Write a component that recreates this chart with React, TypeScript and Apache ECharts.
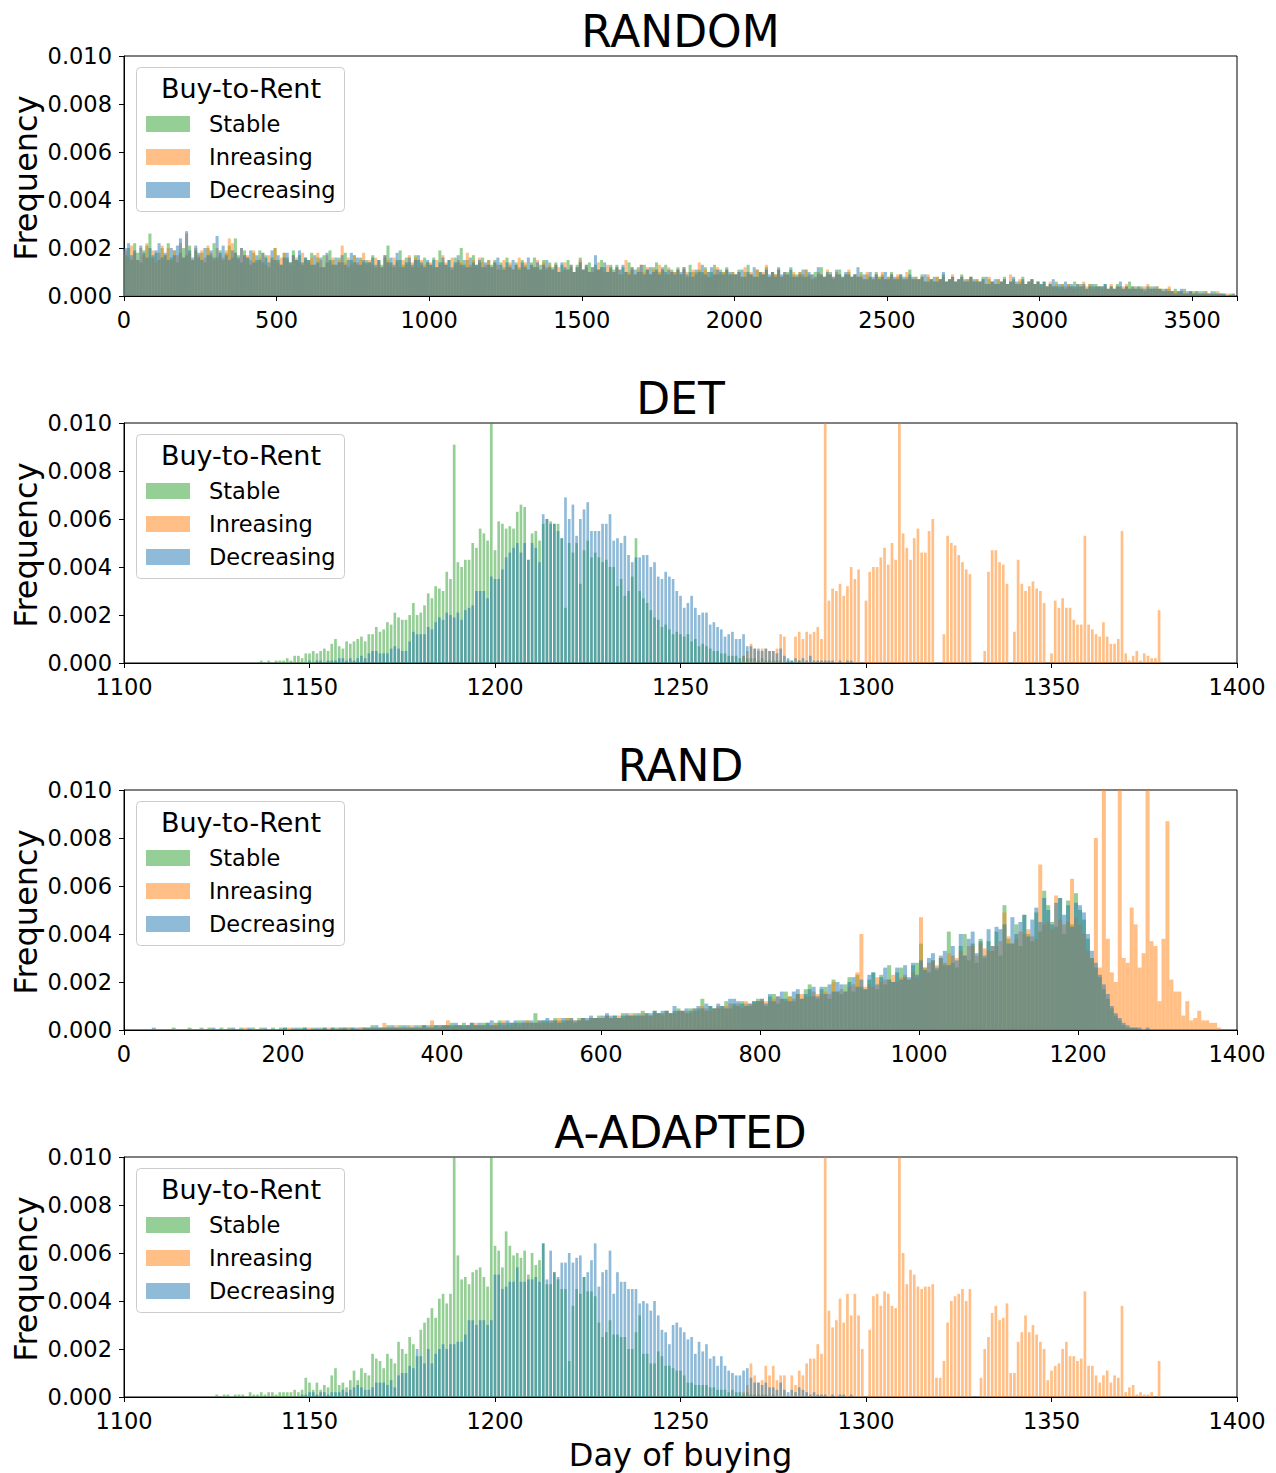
import React, { useEffect, useRef } from 'react';
import * as echarts from 'echarts';

// ---------- labels ----------
const SERIES_NAMES = ['Stable', 'Inreasing', 'Decreasing'];
const PANEL_TITLES = ['RANDOM', 'DET', 'RAND', 'A-ADAPTED'];
const LEGEND_TITLE = 'Buy-to-Rent';
const Y_LABEL = 'Frequency';
const X_LABEL = 'Day of buying';

// ---------- data (frequency in units of 1e-4) ----------
// RANDOM: 10-day bins starting at day 0
const randomStable = [
  17,20,15,22,18,14,19,21,26,16,18,15,20,17,22,16,19,14,18,20,
  17,21,15,19,16,18,14,20,17,22,16,19,15,18,21,16,24,17,14,19,
  16,13,18,15,19,14,17,12,16,20,15,13,18,16,14,19,15,17,13,16,
  15,18,13,16,12,17,14,19,15,13,16,14,18,12,15,17,13,16,14,15,
  14,17,12,15,13,16,21,14,12,15,19,13,16,14,12,17,15,13,16,14,
  13,16,12,19,14,13,15,11,16,14,20,13,15,12,17,13,14,16,12,15,
  13,15,11,14,12,16,13,11,14,12,15,13,11,14,16,12,13,15,11,14,
  12,14,10,13,11,15,12,10,13,16,11,12,14,10,13,11,15,12,10,13,
  11,13,9,12,10,14,11,9,12,10,13,11,9,12,14,10,11,13,9,11,
  10,12,9,11,8,13,10,9,11,10,12,8,10,13,9,11,10,12,9,10,
  9,11,8,10,13,9,8,11,10,9,12,8,10,9,11,8,9,10,12,9,
  9,10,8,11,9,7,10,9,12,8,9,10,7,9,11,8,9,10,8,9,
  8,10,7,9,8,7,10,8,9,7,8,10,7,8,9,7,8,11,7,8,
  7,9,6,8,7,6,8,7,9,6,7,8,6,7,9,6,7,8,6,7,
  6,8,5,7,6,5,7,6,8,5,6,7,5,6,8,5,6,7,5,6,
  5,6,4,5,4,6,4,5,3,5,4,6,4,5,4,3,5,4,5,4,
  4,5,3,4,3,5,4,3,4,6,3,4,3,4,2,3,4,3,4,3,
  3,2,3,2,3,2,2,3,1,2,2,1,2,1,2,1,1,2,1,1,
  1,0,1,0,0,
];
const randomIncreasing = [
  19,16,21,18,15,20,17,22,16,19,14,18,21,17,20,15,19,17,22,16,
  26,18,15,20,17,19,16,21,18,15,20,17,16,19,24,22,18,15,20,17,
  17,15,19,14,16,18,13,17,15,20,14,16,18,15,13,17,16,14,18,15,
  14,16,13,18,15,12,17,14,16,13,15,21,14,16,13,17,14,15,18,13,
  15,13,16,14,12,17,15,13,16,14,12,15,13,17,14,16,12,15,13,14,
  14,12,15,13,17,14,12,16,13,15,14,12,18,13,15,12,16,14,13,15,
  12,14,13,11,15,12,14,11,13,16,12,14,11,13,12,15,11,14,12,13,
  11,13,12,10,14,11,13,10,12,15,11,13,10,12,11,14,12,10,13,11,
  10,12,11,9,15,10,12,9,11,13,10,12,9,11,10,13,11,9,12,10,
  10,11,9,12,10,8,11,10,14,9,11,10,8,11,12,9,10,11,9,10,
  9,10,8,12,9,10,8,11,9,10,13,8,10,9,11,8,10,9,8,10,
  8,10,9,11,8,9,7,10,9,8,11,9,8,10,9,7,9,11,8,9,
  8,9,7,10,8,7,9,8,10,7,8,9,7,9,8,7,10,8,7,8,
  7,8,6,9,7,6,8,7,8,6,7,9,6,7,8,6,7,8,6,7,
  6,7,5,8,6,5,7,6,7,5,9,6,5,7,6,5,6,7,5,6,
  4,5,4,6,4,5,3,5,4,5,4,3,5,4,6,4,5,3,4,4,
  3,4,3,5,3,4,3,4,5,3,4,3,4,3,4,5,3,3,4,3,
  2,3,4,2,2,1,2,2,1,2,1,2,1,1,2,1,1,1,2,1,
  0,1,0,1,0,
];
const randomDecreasing = [
  20,22,17,19,15,21,18,16,20,17,19,22,16,18,15,20,17,21,24,16,
  27,19,16,21,18,15,20,17,19,16,25,18,21,17,15,19,18,16,20,17,
  16,19,14,17,15,18,16,14,19,15,17,13,16,18,14,17,15,19,14,16,
  15,13,17,14,16,12,18,15,13,16,14,17,13,15,18,14,16,13,15,14,
  14,16,13,15,12,17,14,16,13,18,15,12,14,16,13,15,17,14,12,15,
  13,15,12,14,16,13,15,12,14,17,13,15,12,16,14,13,15,12,14,13,
  12,14,16,13,11,14,12,15,13,11,14,12,16,13,12,14,11,13,15,12,
  11,13,10,14,12,11,13,10,12,14,11,13,10,12,17,11,12,14,10,12,
  10,12,11,13,10,9,12,11,10,13,9,11,12,10,11,9,12,10,11,10,
  9,11,10,12,9,10,8,11,10,13,9,10,12,9,11,10,9,11,10,9,
  9,10,11,8,10,9,12,8,10,9,11,9,10,8,12,9,10,9,11,8,
  8,9,11,8,10,9,8,12,9,8,10,9,8,11,9,8,10,9,8,9,
  12,8,9,7,10,8,9,7,8,10,7,9,8,7,9,8,7,9,8,7,
  7,8,9,6,7,8,6,7,10,6,7,8,6,7,8,7,6,8,7,6,
  6,7,8,5,6,7,5,6,7,5,6,8,6,5,7,5,6,7,5,6,
  5,6,4,5,7,4,5,4,6,4,5,4,5,4,5,3,4,5,4,4,
  4,5,3,4,3,4,6,3,4,3,4,3,4,3,3,4,3,4,3,3,
  2,3,2,2,1,2,3,1,2,2,1,2,1,2,1,1,2,1,1,1,
  1,0,0,1,0,
];

// DET: one bar per day
const detStable = [ // from day 1135
  0,0,1,0,1,0,1,1,1,2,
  1,3,3,2,4,4,5,4,5,6,
  5,8,10,7,6,9,8,9,10,11,
  9,12,12,15,13,14,17,16,21,19,
  18,18,20,25,20,21,24,29,27,32,
  31,30,38,35,91,42,40,43,43,50,
  48,56,54,51,120,47,59,58,56,57,
  56,63,66,65,43,54,55,51,58,60,
  59,58,58,52,23,50,46,50,33,47,
  51,44,46,44,42,43,40,40,32,35,
  28,30,36,52,30,27,25,22,19,18,
  15,16,14,12,13,12,11,12,9,10,
  7,8,7,6,5,5,4,4,3,3,
  3,2,3,2,2,2,1,2,1,1,
  1,1,1,0,1,1,0,1,
];
const detDecreasing = [ // from day 1150
  1,0,1,1,0,1,1,1,2,2,
  1,2,1,2,3,2,4,5,5,4,
  4,4,6,7,6,5,5,9,13,12,
  12,12,15,14,17,19,18,21,20,19,
  21,18,22,23,24,30,30,30,27,36,
  35,35,39,44,46,48,50,46,50,43,
  50,48,42,62,60,58,58,55,52,69,
  60,66,53,60,64,67,55,55,55,58,
  58,62,51,52,50,53,45,42,44,44,
  45,45,40,42,36,35,38,36,35,30,
  28,23,25,28,23,20,21,21,16,17,
  15,14,11,12,13,10,10,12,7,7,
  6,6,5,6,5,5,4,6,3,2,
  1,2,1,2,1,3,1,1,1,1,
  1,1,0,1,0,1,1,
];
const detIncreasing = [ // from day 1266
  0,3,5,8,6,5,6,6,5,5,
  6,12,11,0,0,11,13,10,13,12,
  13,15,10,120,26,31,30,33,28,32,
  40,35,39,0,26,38,40,40,44,48,
  41,50,43,120,54,48,43,52,56,46,
  46,55,60,0,0,12,53,50,49,45,
  42,39,37,0,0,0,5,38,47,47,
  42,41,33,0,13,43,33,30,32,34,
  31,30,25,0,4,26,23,27,23,23,
  18,16,16,53,16,14,12,11,17,11,
  8,8,10,55,4,1,3,5,1,4,
  3,2,2,22,
];

// RAND: 5-day bins starting at day 0
const randStable = [
  0,0,0,0,0,0,0,0,0,0,0,0,1,0,0,0,1,0,0,1,
  0,1,0,0,1,0,1,0,0,1,0,0,1,0,1,0,0,1,0,1,
  1,0,1,0,1,1,0,1,0,1,1,0,1,1,0,1,1,1,0,1,
  1,1,2,1,1,1,2,1,1,2,1,2,1,1,2,2,1,2,2,1,
  2,2,3,2,2,3,2,3,2,2,3,3,2,3,4,2,3,3,3,4,
  3,4,3,7,3,4,4,3,5,4,4,5,4,3,5,5,4,5,5,6,
  5,6,5,6,5,7,6,6,7,6,8,7,6,8,7,7,8,7,8,9,
  8,7,9,8,9,13,8,10,9,9,10,12,9,11,10,12,11,10,12,13,
  12,10,14,15,11,13,16,14,12,15,13,17,19,14,13,17,18,13,21,16,
  15,19,22,16,23,18,17,21,24,17,23,19,27,20,24,26,22,21,27,28,
  36,26,24,29,25,30,27,41,28,26,35,40,29,36,28,38,30,37,33,41,
  31,52,38,36,44,35,48,40,37,49,41,58,52,45,43,55,40,54,44,57,
  50,46,38,30,26,22,17,13,9,6,4,2,1,1,1,0,0,0,0,0,
];
const randIncreasing = [
  0,0,0,0,0,0,0,0,0,0,0,0,0,0,0,0,0,0,0,0,
  0,0,0,0,0,0,0,0,0,0,1,0,0,0,0,0,0,0,0,0,
  0,1,0,0,0,0,1,0,0,0,0,1,0,0,1,0,1,0,0,1,
  1,0,1,0,1,3,1,1,2,1,1,1,2,1,1,2,1,4,1,2,
  2,4,1,2,2,1,2,2,3,2,2,2,2,3,2,4,2,2,3,2,
  3,4,3,3,4,3,3,4,4,5,3,5,5,4,4,5,4,5,5,5,
  5,6,5,5,6,5,6,7,6,6,7,6,6,7,7,6,8,7,7,8,
  8,8,7,9,8,10,9,8,9,10,9,10,11,10,11,9,12,11,11,12,
  13,12,12,13,14,13,12,14,13,15,15,14,14,16,15,15,16,15,20,16,
  17,16,18,19,24,40,18,19,18,22,20,21,21,23,20,22,23,21,24,22,
  47,26,28,29,27,30,28,32,31,30,33,31,35,35,31,36,34,33,35,35,
  37,49,39,36,38,41,40,42,39,38,69,44,45,42,56,46,44,45,63,47,
  44,40,33,30,80,26,115,38,24,20,115,30,28,51,44,26,32,115,37,35,
  12,38,87,21,16,16,6,12,4,5,8,4,4,3,3,1,
];
const randDecreasing = [
  0,0,0,0,0,0,0,1,0,0,0,0,0,0,0,0,0,0,0,0,
  0,0,1,0,0,0,0,1,0,0,0,1,0,0,0,1,0,0,0,0,
  1,0,0,1,0,1,0,0,1,0,1,0,1,0,1,1,0,1,1,0,
  1,1,1,2,1,1,1,2,1,1,2,1,1,2,1,2,2,1,2,2,
  2,2,2,3,2,2,2,3,2,3,2,3,4,2,3,3,4,3,4,3,
  4,3,4,3,4,4,5,4,4,3,5,4,5,4,4,5,5,6,5,5,
  6,7,6,6,5,6,7,6,6,7,6,7,7,8,7,8,8,7,10,8,
  8,9,8,9,10,9,11,10,9,11,10,9,13,13,12,11,10,11,12,12,
  13,11,15,12,14,16,13,12,16,17,13,15,17,18,14,18,15,19,16,20,
  19,16,20,22,18,21,17,23,24,19,22,26,21,20,26,21,27,22,28,23,
  29,25,30,32,26,31,33,27,35,29,40,31,38,41,32,37,31,42,35,43,
  42,44,36,47,40,45,48,39,46,51,45,55,50,44,53,55,48,52,43,53,
  52,49,40,33,28,23,19,15,10,7,5,3,2,1,1,1,0,1,0,0,
];

// A-ADAPTED: one bar per day
const aadStable = [ // from day 1125
  1,0,1,1,0,1,1,1,0,2,
  1,1,2,1,2,2,1,2,2,2,
  2,3,2,3,8,6,3,6,3,5,
  4,9,12,5,6,4,7,11,7,12,
  10,9,18,16,15,12,18,16,14,23,
  20,18,25,22,17,28,31,33,37,33,
  41,43,39,43,120,59,49,50,47,52,
  53,54,50,46,120,63,61,54,69,63,
  59,60,58,61,51,60,55,57,64,47,
  47,52,49,45,45,15,38,45,43,50,
  44,44,42,31,25,27,32,26,26,25,
  25,20,20,27,34,18,18,14,14,19,
  17,13,13,12,11,11,9,6,6,5,
  5,5,5,4,4,3,3,3,2,3,
  2,2,1,2,1,1,1,1,1,0,1,
];
const aadDecreasing = [ // from day 1148
  1,1,2,2,1,2,2,1,2,2,
  2,3,2,3,4,5,4,3,3,4,
  6,6,6,5,7,4,9,10,10,13,
  12,20,17,14,20,14,18,20,22,20,
  22,22,23,23,26,32,32,30,32,32,
  30,32,51,51,45,46,48,48,54,48,
  48,49,49,50,48,64,49,61,52,50,
  56,56,60,56,58,59,50,52,57,64,
  46,52,53,61,43,52,48,48,45,45,
  45,39,40,39,36,40,34,28,27,22,
  30,31,29,27,24,25,18,23,19,22,
  16,17,13,17,13,11,10,9,9,11,
  12,8,6,6,5,6,4,4,3,6,
  3,2,3,2,4,3,2,1,2,1,
  1,1,0,1,0,1,1,0,1,
];
const aadIncreasing = [ // from day 1266
  0,2,5,14,9,6,7,13,9,13,
  7,9,9,0,9,5,11,9,14,16,
  16,22,18,120,36,29,32,41,31,43,
  34,43,34,20,0,28,42,43,38,44,
  43,38,37,120,60,47,53,51,46,45,
  46,46,47,8,8,15,31,40,42,43,
  45,40,45,0,0,8,20,25,35,38,
  32,33,39,10,10,23,27,34,27,30,
  26,23,20,7,11,13,14,20,23,17,
  17,15,16,44,13,13,9,6,9,11,
  6,9,8,38,2,4,5,1,2,1,
  1,2,0,15,
];

// ---------- styling ----------
const FONT = 'DejaVu Sans';
const COLORS = ['rgba(44,160,44,0.5)', 'rgba(255,127,14,0.5)', 'rgba(31,119,180,0.5)'];
const UNIT = 1e-4;

type SeriesDef = { values: number[]; start: number; step: number; width: number; centered: boolean };
type PanelDef = { title: string; min: number; max: number; interval: number; series: SeriesDef[] };

const PANELS: PanelDef[] = [
  {
    title: PANEL_TITLES[0], min: 0, max: 3647, interval: 500,
    series: [
      { values: randomStable, start: 0, step: 10, width: 10, centered: false },
      { values: randomIncreasing, start: 0, step: 10, width: 10, centered: false },
      { values: randomDecreasing, start: 0, step: 10, width: 10, centered: false },
    ],
  },
  {
    title: PANEL_TITLES[1], min: 1100, max: 1400, interval: 50,
    series: [
      { values: detStable, start: 1135, step: 1, width: 0.72, centered: true },
      { values: detIncreasing, start: 1266, step: 1, width: 0.72, centered: true },
      { values: detDecreasing, start: 1150, step: 1, width: 0.72, centered: true },
    ],
  },
  {
    title: PANEL_TITLES[2], min: 0, max: 1400, interval: 200,
    series: [
      { values: randStable, start: 0, step: 5, width: 5, centered: false },
      { values: randIncreasing, start: 0, step: 5, width: 5, centered: false },
      { values: randDecreasing, start: 0, step: 5, width: 5, centered: false },
    ],
  },
  {
    title: PANEL_TITLES[3], min: 1100, max: 1400, interval: 50,
    series: [
      { values: aadStable, start: 1125, step: 1, width: 0.72, centered: true },
      { values: aadIncreasing, start: 1266, step: 1, width: 0.72, centered: true },
      { values: aadDecreasing, start: 1148, step: 1, width: 0.72, centered: true },
    ],
  },
];

const GRID_LEFT = 124;
const GRID_WIDTH = 1113;
const GRID_HEIGHT = 240;
const GRID_TOP0 = 56;
const GRID_STEP = 367;

function buildOption(): any {
  const grid: any[] = [];
  const xAxis: any[] = [];
  const yAxis: any[] = [];
  const series: any[] = [];
  const graphic: any[] = [];

  PANELS.forEach((p, i) => {
    const top = GRID_TOP0 + GRID_STEP * i;
    grid.push({
      left: GRID_LEFT, top, width: GRID_WIDTH, height: GRID_HEIGHT,
      show: true, borderColor: '#000', borderWidth: 1, backgroundColor: 'transparent',
    });
    xAxis.push({
      type: 'value', gridIndex: i, min: p.min, max: p.max, interval: p.interval,
      axisLine: { show: true, onZero: false, lineStyle: { color: '#000', width: 1 } },
      axisTick: { show: true, inside: false, length: 5, lineStyle: { color: '#000', width: 1 } },
      axisLabel: {
        fontSize: 22.5, color: '#000', fontFamily: FONT, margin: 12,
        formatter: (v: number) => (Math.abs(v / p.interval - Math.round(v / p.interval)) < 1e-9 ? String(v) : ''),
      },
      splitLine: { show: false },
    });
    yAxis.push({
      type: 'value', gridIndex: i, min: 0, max: 0.01, interval: 0.002,
      axisLine: { show: true, onZero: false, lineStyle: { color: '#000', width: 1 } },
      axisTick: { show: true, inside: false, length: 5, lineStyle: { color: '#000', width: 1 } },
      axisLabel: { fontSize: 22.5, color: '#000', fontFamily: FONT, margin: 12, formatter: (v: number) => v.toFixed(3) },
      splitLine: { show: false },
    });

    p.series.forEach((s, k) => {
      const data = s.values.map((v, j) => {
        const left = s.centered ? s.start + j * s.step - s.width / 2 : s.start + j * s.step;
        return [left, left + s.width, v * UNIT];
      });
      const fill = COLORS[k];
      series.push({
        type: 'custom',
        name: SERIES_NAMES[k],
        xAxisIndex: i,
        yAxisIndex: i,
        clip: true,
        silent: true,
        encode: { x: [0, 1], y: 2 },
        data,
        renderItem: (params: any, api: any) => {
          const a = api.coord([api.value(0), api.value(2)]);
          const b = api.coord([api.value(1), 0]);
          const cs = params.coordSys;
          const yTop = Math.max(a[1], cs.y);
          return {
            type: 'rect',
            shape: { x: a[0], y: yTop, width: b[0] - a[0], height: b[1] - yTop },
            style: { fill },
          };
        },
      });
    });

    // title
    graphic.push({
      type: 'text', x: GRID_LEFT + GRID_WIDTH / 2, y: 31 + GRID_STEP * i, z: 100,
      style: { text: p.title, fontSize: 44, fontFamily: FONT, fill: '#000', align: 'center', verticalAlign: 'middle' },
    });
    // y label
    graphic.push({
      type: 'text', x: 26, y: top + 122, rotation: Math.PI / 2, z: 100,
      style: { text: Y_LABEL, fontSize: 32, fontFamily: FONT, fill: '#000', align: 'center', verticalAlign: 'middle' },
    });
    // legend
    graphic.push({
      type: 'rect', z: 100,
      shape: { x: 136.5, y: top + 11.5, width: 208, height: 144, r: 4 },
      style: { fill: 'rgba(255,255,255,0.8)', stroke: '#cccccc', lineWidth: 1 },
    });
    graphic.push({
      type: 'text', x: 241, y: top + 32, z: 101,
      style: { text: LEGEND_TITLE, fontSize: 27, fontFamily: FONT, fill: '#000', align: 'center', verticalAlign: 'middle' },
    });
    const rows = [68, 101, 134];
    SERIES_NAMES.forEach((name, k) => {
      graphic.push({
        type: 'rect', z: 101,
        shape: { x: 146, y: top + rows[k] - 8, width: 44, height: 16 },
        style: { fill: COLORS[k] },
      });
      graphic.push({
        type: 'text', x: 209, y: top + rows[k], z: 101,
        style: { text: name, fontSize: 22.5, fontFamily: FONT, fill: '#000', align: 'left', verticalAlign: 'middle' },
      });
    });
  });

  graphic.push({
    type: 'text', x: GRID_LEFT + GRID_WIDTH / 2, y: 1455, z: 100,
    style: { text: X_LABEL, fontSize: 32, fontFamily: FONT, fill: '#000', align: 'center', verticalAlign: 'middle' },
  });

  return {
    animation: false,
    backgroundColor: '#ffffff',
    textStyle: { fontFamily: FONT },
    grid, xAxis, yAxis, series, graphic,
  };
}

export default function App() {
  const ref = useRef<HTMLDivElement>(null);
  useEffect(() => {
    if (!ref.current) return;
    const chart = echarts.init(ref.current, undefined, { renderer: 'svg' });
    chart.setOption(buildOption());
    return () => chart.dispose();
  }, []);
  return (
    <div
      ref={ref}
      style={{ position: 'absolute', left: 0, top: 0, width: 1276, height: 1473, background: '#fff' }}
    />
  );
}
